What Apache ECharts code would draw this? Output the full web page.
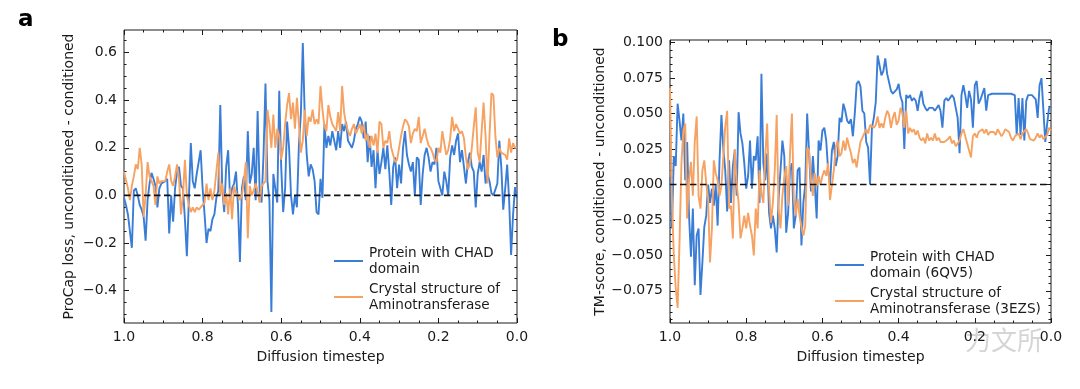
<!DOCTYPE html>
<html><head><meta charset="utf-8">
<script src="https://cdn.jsdelivr.net/npm/echarts@6/dist/echarts.min.js"></script>
<style>html,body{margin:0;padding:0;background:#fff}#c{width:1080px;height:389px}</style>
</head><body><div id="c"></div>
<script>
// ---- data (diffusion timestep runs from 1.0 down to 0.0 in equal steps) ----
const aBlue = [
 -0.01,-0.04,-0.08,-0.15,-0.22,0.02,0.03,0.0,-0.04,-0.06,
 -0.09,-0.19,-0.02,0.05,0.095,0.07,0.04,-0.05,0.03,0.05,
 0.05,0.06,0.07,-0.16,0.0,-0.11,0.03,0.1,0.12,0.04,
 0.03,-0.1,-0.255,-0.02,0.22,0.06,0.03,0.09,0.14,0.19,
 0.03,-0.08,-0.2,-0.14,-0.15,-0.1,-0.08,-0.01,0.02,0.38,
 0.03,-0.07,0.12,0.19,-0.02,0.03,0.05,0.1,-0.04,-0.28,
 0.03,0.08,-0.02,0.27,0.05,0.09,0.2,-0.02,0.355,0.03,
 -0.03,0.17,0.47,0.06,-0.02,-0.49,0.09,0.03,-0.03,0.44,
 0.12,-0.07,0.03,0.31,0.2,0.0,-0.08,0.0,-0.05,0.21,
 0.34,0.64,0.33,0.17,0.08,0.13,0.11,0.06,-0.07,-0.08,
 0.07,-0.01,0.3,0.2,0.25,0.21,0.27,0.27,0.19,0.27,
 0.2,0.3,0.27,0.31,0.23,0.23,0.2,0.23,0.28,0.3,
 0.33,0.31,0.24,0.31,0.14,0.25,0.12,0.19,0.03,0.19,
 0.09,0.14,0.2,0.11,0.21,0.1,-0.04,0.12,0.16,0.03,
 0.13,0.05,0.2,0.27,0.17,0.13,0.1,0.14,0.0,0.16,
 0.15,-0.04,0.09,0.17,0.2,0.16,0.1,0.14,0.13,0.2,
 0.06,0.03,0.0,0.1,0.06,0.0,0.16,0.21,0.17,0.23,
 0.26,0.14,0.19,0.12,0.05,0.14,0.18,0.12,0.1,-0.05,
 0.09,0.14,0.1,0.17,0.05,0.09,0.06,0.01,0.0,0.0,
 0.05,0.23,0.12,-0.06,0.03,0.13,-0.02,-0.25,-0.08,0.035,-0.01
];
const aOrange = [
 0.1,0.1,0.03,-0.02,0.04,0.08,0.13,0.11,0.2,0.13,
 -0.09,0.0,0.14,0.08,0.06,0.04,-0.04,0.08,0.05,0.06,
 0.06,0.06,0.1,0.13,0.06,0.04,0.08,0.13,0.07,-0.08,
 0.0,0.15,0.0,-0.04,-0.07,-0.05,-0.07,-0.05,-0.06,-0.05,
 -0.05,-0.03,0.05,-0.02,0.03,-0.02,0.02,0.02,0.18,0.0,
 0.05,-0.04,0.01,-0.08,0.03,-0.1,0.04,0.01,0.0,-0.02,
 0.0,0.06,0.14,-0.18,0.04,0.0,0.02,0.05,0.02,-0.03,
 0.04,0.04,0.06,0.36,0.3,0.2,0.34,0.2,0.28,0.25,
 0.15,0.2,0.3,0.38,0.43,0.32,0.39,0.28,0.41,0.3,
 0.18,0.23,0.36,0.25,0.33,0.31,0.36,0.3,0.32,0.3,
 0.46,0.36,0.29,0.27,0.38,0.33,0.3,0.3,0.27,0.35,
 0.27,0.46,0.35,0.3,0.27,0.25,0.28,0.3,0.26,0.28,
 0.3,0.26,0.3,0.23,0.26,0.2,0.25,0.21,0.26,0.18,
 0.31,0.3,0.2,0.23,0.22,0.27,0.2,0.17,0.14,0.15,
 0.15,0.25,0.29,0.32,0.31,0.29,0.22,0.26,0.28,0.27,
 0.33,0.22,0.25,0.28,0.24,0.21,0.2,0.18,0.15,0.14,
 0.2,0.18,0.27,0.22,0.17,0.19,0.24,0.33,0.27,0.3,
 0.3,0.26,0.27,0.24,0.16,0.11,0.13,0.2,0.29,0.37,
 0.18,0.14,0.27,0.39,0.25,0.05,0.25,0.43,0.42,0.25,
 0.16,0.2,0.18,0.18,0.17,0.15,0.24,0.18,0.22,0.2,0.2
];
const bBlue = [
 0.005,-0.031,0.02,0.013,0.057,0.045,0.031,0.05,0.003,0.03,
 -0.022,-0.051,-0.017,-0.071,-0.036,-0.031,-0.078,-0.055,-0.03,-0.022,
 0.0,-0.013,-0.003,-0.015,0.0,-0.029,0.017,0.049,0.025,0.01,
 -0.019,0.017,-0.013,0.013,0.024,-0.008,0.051,0.036,0.029,0.015,
 -0.003,0.006,0.031,-0.003,0.02,0.017,0.034,-0.013,0.078,0.015,
 0.003,0.022,-0.02,-0.031,-0.022,-0.031,-0.048,-0.01,0.01,0.031,
 0.02,-0.034,-0.02,0.01,0.015,-0.031,-0.022,0.01,0.012,-0.043,
 -0.013,0.0,0.05,0.049,-0.005,0.02,0.0,-0.024,0.031,0.024,
 0.038,0.04,0.031,0.01,0.0,0.024,0.03,0.013,0.02,0.047,
 0.044,0.057,0.052,0.045,0.043,0.046,0.034,0.05,0.071,0.073,
 0.069,0.052,0.05,0.03,0.026,0.0,0.04,0.047,0.058,0.091,
 0.09,0.077,0.08,0.089,0.078,0.072,0.066,0.064,0.063,0.067,
 0.071,0.062,0.058,0.025,0.063,0.061,0.063,0.059,0.061,0.059,
 0.052,0.061,0.066,0.057,0.054,0.052,0.054,0.053,0.054,0.052,
 0.054,0.056,0.052,0.04,0.059,0.061,0.059,0.058,0.063,0.061,
 0.054,0.047,0.022,0.063,0.07,0.063,0.054,0.066,0.06,0.04,
 0.07,0.073,0.057,0.06,0.064,0.068,0.052,0.063,0.064,0.064,
 0.064,0.064,0.063,0.064,0.064,0.064,0.063,0.064,0.064,0.064,
 0.064,0.063,0.035,0.061,0.035,0.061,0.031,0.059,0.063,0.062,
 0.063,0.064,0.06,0.047,0.07,0.075,0.076,0.03,0.043,0.054,0.055
];
const bOrange = [
 0.068,-0.01,-0.05,-0.073,-0.087,-0.04,0.015,0.038,0.043,-0.024,
 0.003,0.016,-0.008,0.03,0.048,-0.008,-0.017,0.01,0.017,0.001,
 -0.01,-0.055,-0.031,0.017,0.008,0.003,-0.008,-0.001,0.02,0.041,
 0.052,-0.017,-0.015,-0.038,0.025,0.001,-0.013,-0.038,-0.031,-0.022,
 -0.031,-0.02,-0.029,-0.036,-0.05,-0.017,-0.031,0.01,-0.006,-0.013,
 0.02,0.043,-0.003,-0.027,-0.013,0.01,0.049,-0.017,-0.031,-0.008,
 0.005,0.013,-0.015,0.022,0.05,-0.01,-0.022,-0.01,-0.022,-0.03,
 -0.036,-0.029,0.026,0.024,0.003,-0.008,0.008,-0.001,0.006,0.0,
 0.006,0.01,0.006,0.015,-0.011,-0.012,0.01,0.026,0.031,0.02,
 0.022,0.031,0.024,0.033,0.027,0.022,0.015,0.018,0.012,0.022,
 0.03,0.031,0.036,0.039,0.036,0.042,0.042,0.04,0.042,0.048,
 0.04,0.043,0.04,0.047,0.052,0.049,0.04,0.047,0.051,0.042,
 0.045,0.054,0.05,0.04,0.052,0.036,0.04,0.037,0.039,0.035,
 0.038,0.033,0.031,0.033,0.029,0.036,0.031,0.033,0.031,0.036,
 0.031,0.033,0.03,0.031,0.03,0.031,0.032,0.034,0.029,0.031,
 0.027,0.029,0.031,0.036,0.039,0.034,0.035,0.024,0.019,0.034,
 0.036,0.033,0.037,0.036,0.039,0.036,0.039,0.035,0.037,0.038,
 0.037,0.035,0.039,0.04,0.034,0.036,0.039,0.04,0.037,0.033,
 0.031,0.034,0.033,0.036,0.032,0.036,0.037,0.039,0.036,0.032,
 0.031,0.031,0.033,0.036,0.033,0.035,0.032,0.031,0.035,0.04,0.038
];
const xTickLabels = [1.0, 0.8, 0.6, 0.4, 0.2, 0.0];
const aYTickLabels = [-0.4, -0.2, 0.0, 0.2, 0.4, 0.6];
const bYTickLabels = [-0.075, -0.05, -0.025, 0.0, 0.025, 0.05, 0.075, 0.1];
const seriesNames = {
  aBlue: 'Protein with CHAD domain',
  aOrange: 'Crystal structure of Aminotransferase',
  bBlue: 'Protein with CHAD domain (6QV5)',
  bOrange: 'Crystal structure of Aminotransferase (3EZS)'
};
const legendText = {
  'Protein with CHAD domain': 'Protein with CHAD\ndomain',
  'Crystal structure of Aminotransferase': 'Crystal structure of\nAminotransferase',
  'Protein with CHAD domain (6QV5)': 'Protein with CHAD\ndomain (6QV5)',
  'Crystal structure of Aminotransferase (3EZS)': 'Crystal structure of\nAminotransferase (3EZS)'
};
const BLUE = '#3a7dd6', ORANGE = '#f6a262', INK = '#1a1a1a';
const FONT = 'DejaVu Sans';
const FS = 14;

function toPairs(vals) {
  const n = vals.length - 1;
  return vals.map((v, i) => [1 - i / n, v]);
}
function minorList(lo, hi, step) {
  const out = [];
  for (let k = Math.ceil(lo / step - 1e-9); k * step <= hi + 1e-9; k++) out.push(+(k * step).toFixed(6));
  return out;
}
const fmt = d => v => (v < -1e-12 ? '\u2212' : '') + Math.abs(v).toFixed(d);

function axes(dim, grid, min, max, majors, minors, labelFmt, name, nameGap, inverse) {
  const sides = dim === 'x' ? ['bottom', 'top'] : ['left', 'right'];
  const out = [];
  sides.forEach((pos, si) => {
    [[majors, 5], [minors, 2.5]].forEach(([vals, len], mi) => {
      const main = si === 0 && mi === 0;
      out.push({
        type: 'value', gridIndex: grid, position: pos, offset: 0, min, max, inverse: !!inverse,
        splitLine: { show: false },
        axisLine: { show: false, onZero: false },
        axisTick: { show: true, inside: true, length: len, customValues: vals,
          lineStyle: { color: INK, width: 1 } },
        axisLabel: { show: main, customValues: vals, formatter: labelFmt,
          color: INK, fontSize: FS, fontFamily: FONT, margin: 7 },
        name: main ? name : '',
        nameLocation: 'middle', nameGap: nameGap,
        nameTextStyle: { color: INK, fontSize: FS, fontFamily: FONT }
      });
    });
  });
  return out;
}

const aYmin = -0.536, aYmax = 0.695;
const bYmin = -0.0977, bYmax = 0.1019;

const xAxes = [
  ...axes('x', 0, 0, 1, xTickLabels, minorList(0, 1, 0.05), fmt(1), 'Diffusion timestep', 27, true),
  ...axes('x', 1, 0, 1, xTickLabels, minorList(0, 1, 0.05), fmt(1), 'Diffusion timestep', 27, true)
];
const yAxes = [
  ...axes('y', 0, aYmin, aYmax, aYTickLabels, minorList(aYmin, aYmax, 0.05), fmt(1), 'ProCap loss, unconditioned - conditioned', 48, false),
  ...axes('y', 1, bYmin, bYmax, bYTickLabels, minorList(bYmin, bYmax, 0.005), fmt(3), 'TM-score, conditioned - unconditioned', 63, false)
];

function lineSeries(name, vals, color, grid) {
  return { type: 'line', name, data: toPairs(vals), xAxisIndex: grid * 4, yAxisIndex: grid * 4,
    symbol: 'none', showSymbol: false, color,
    lineStyle: { color, width: 1.9 }, animation: false, z: 3 };
}
function zeroLine(grid) {
  return { type: 'line', data: [[1, 0], [0, 0]], xAxisIndex: grid * 4, yAxisIndex: grid * 4,
    symbol: 'none', silent: true, animation: false, z: 5,
    lineStyle: { color: '#111', width: 1.7, type: [6.5, 3.5] } };
}
function legend(left, top, names) {
  return { left, top, orient: 'vertical', data: names, icon: 'rect', itemWidth: 29, itemHeight: 2,
    itemGap: 4, selectedMode: false, formatter: n => legendText[n],
    textStyle: { color: INK, fontSize: 13.6, lineHeight: 16, fontFamily: FONT, padding: [0, 0, 0, 1] } };
}

const chart = echarts.init(document.getElementById('c'), null, { renderer: 'canvas' });
chart.setOption({
  backgroundColor: '#ffffff',
  animation: false,
  grid: [
    { left: 124, top: 30, width: 393, height: 293, show: true, borderColor: INK, borderWidth: 1, backgroundColor: 'transparent' },
    { left: 670, top: 40, width: 381, height: 283, show: true, borderColor: INK, borderWidth: 1, backgroundColor: 'transparent' }
  ],
  xAxis: xAxes,
  yAxis: yAxes,
  legend: [
    legend(329, 240, [seriesNames.aBlue, seriesNames.aOrange]),
    legend(830, 244, [seriesNames.bBlue, seriesNames.bOrange])
  ],
  series: [
    lineSeries(seriesNames.aBlue, aBlue, BLUE, 0),
    lineSeries(seriesNames.aOrange, aOrange, ORANGE, 0),
    zeroLine(0),
    lineSeries(seriesNames.bBlue, bBlue, BLUE, 1),
    lineSeries(seriesNames.bOrange, bOrange, ORANGE, 1),
    zeroLine(1)
  ],
  graphic: [
    { type: 'text', left: 18, top: 9, style: { text: 'a', font: 'bold 23px "DejaVu Sans"', fill: '#000' } },
    { type: 'text', left: 552, top: 29, style: { text: 'b', font: 'bold 23px "DejaVu Sans"', fill: '#000' } },
    { type: 'text', left: 965, top: 327, style: { text: '力文所', font: '26px "Noto Sans CJK SC"', fill: 'rgba(150,150,150,0.4)' } }
  ]
});
</script>
</body></html>
